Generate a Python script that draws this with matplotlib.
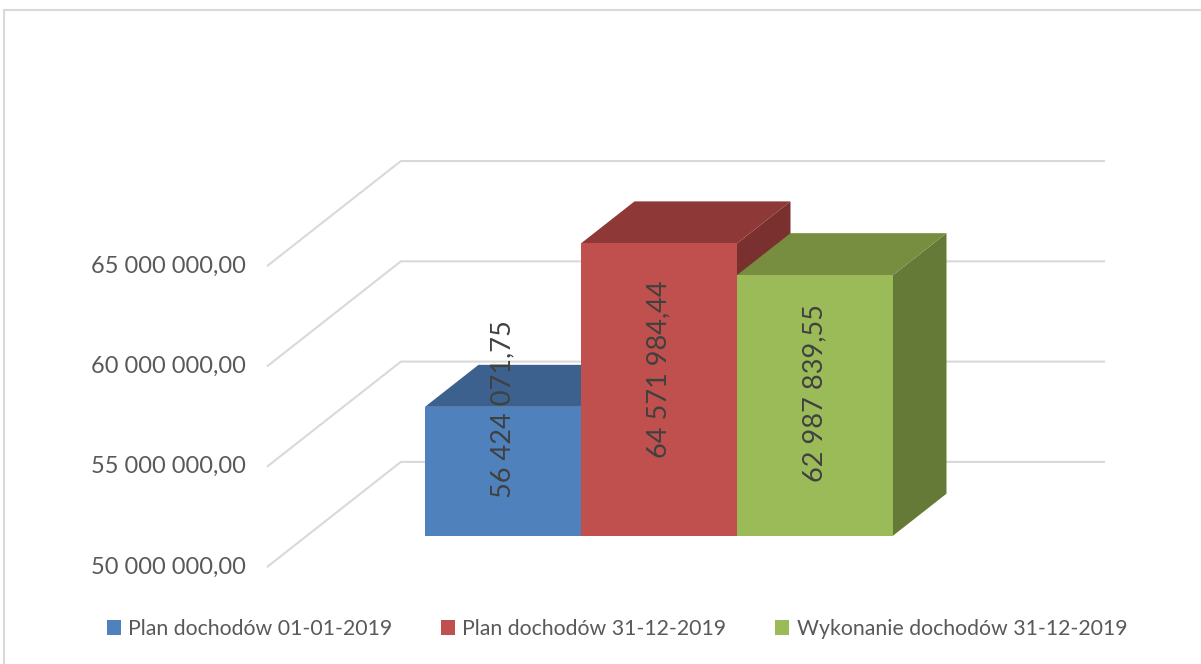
import matplotlib.pyplot as plt
from matplotlib.patches import Polygon, Rectangle

# data
series = ['Plan dochodów 01-01-2019', 'Plan dochodów 31-12-2019', 'Wykonanie dochodów 31-12-2019']
values = [56424071.75, 64571984.44, 62987839.55]
value_labels = ['56 424 071,75', '64 571 984,44', '62 987 839,55']
ticks = [50000000, 55000000, 60000000, 65000000]
tick_labels = ['50 000 000,00', '55 000 000,00', '60 000 000,00', '65 000 000,00']

# styles
front_colors = ['#4F81BD', '#C0504D', '#9BBB59']
top_colors = ['#3D618E', '#8E3937', '#778E40']
side_colors = ['#36567D', '#7A302E', '#667A37']
label_y = [56320000, 58310000, 57110000]  # where Excel put the rotated labels
base = 50000000

plt.rcParams['font.family'] = ['Lato', 'DejaVu Sans']

W, H = 1201, 664
fig = plt.figure(figsize=(W / 100, H / 100), dpi=100)
ax = fig.add_axes([0, 0, 1, 1])
ax.set_axis_off()

# map: 1 x unit = one bar width (156 px), 100.3 px per 5 mln
xpx = 156.0
vpp = 5e6 / 100.3
ax.set_xlim((0 - 425) / xpx - 0.5, (W - 425) / xpx - 0.5)
ax.set_ylim(base - (H - 535.7) * vpp, base + 535.7 * vpp)

# oblique depth vector (per bar depth)
ddx = 53.5 / xpx
ddy = 42.0 * vpp
d_front, d_back = -0.748, 1.757
xL, xR = 1 - 2.257, 1 + 2.257

# gridlines: floor diagonal + back wall
for t, lab in zip(ticks, tick_labels):
    ax.plot([xL + d_front * ddx, xL + d_back * ddx, xR + d_back * ddx],
            [t + d_front * ddy, t + d_back * ddy, t + d_back * ddy],
            color='#d9d9d9', lw=1.5, zorder=1, solid_capstyle='butt')
    ax.text(xL + d_front * ddx - 21 / xpx, t + d_front * ddy, lab,
            ha='right', va='center', fontsize=17, color='#595959')

pos = list(range(len(values)))
bars = ax.bar(pos, [v - base for v in values], bottom=base, width=1.0,
              color=front_colors, linewidth=0, zorder=5)

for i, v in enumerate(values):
    x0, x1 = i - 0.5, i + 0.5
    top = Polygon([(x0, v), (x1, v), (x1 + ddx, v + ddy), (x0 + ddx, v + ddy)],
                  closed=True, facecolor=top_colors[i], edgecolor='none', zorder=4)
    side = Polygon([(x1, base), (x1, v), (x1 + ddx, v + ddy), (x1 + ddx, base + ddy)],
                   closed=True, facecolor=side_colors[i], edgecolor='none', zorder=3)
    ax.add_patch(side)
    ax.add_patch(top)
    ax.text(i, label_y[i], value_labels[i], rotation=90, ha='center', va='center',
            fontsize=19.5, color='#404040', zorder=6)

fig.legend(bars, series, loc='center', bbox_to_anchor=(617 / W, 1 - 629 / H),
           ncol=3, frameon=False, fontsize=15.3, labelcolor='#595959',
           handlelength=0.65, handleheight=0.65, handletextpad=0.35,
           columnspacing=2.3)

# chart frame
fig.patches.append(Rectangle((4 / W, -0.1), 1.2, (H - 10) / H + 0.1, fill=False,
                             edgecolor='#d9d9d9', lw=1.5, transform=fig.transFigure))

fig.savefig('out.png', dpi=100)
